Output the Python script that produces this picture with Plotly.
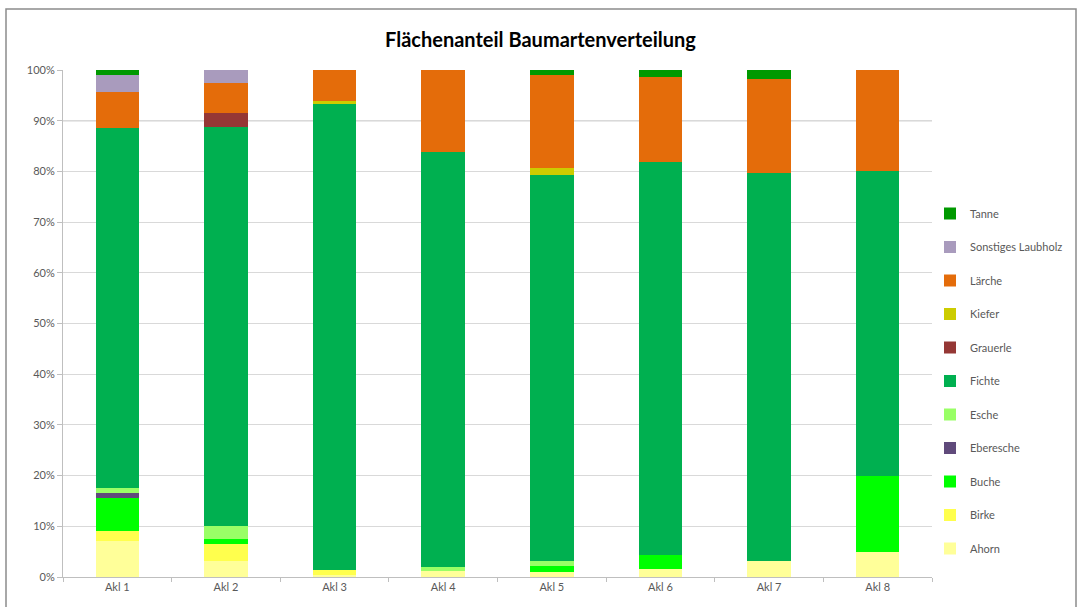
import plotly.graph_objects as go

# Altersklassen (Akl) on the x-axis
categories = ["Akl 1", "Akl 2", "Akl 3", "Akl 4", "Akl 5", "Akl 6", "Akl 7", "Akl 8"]

# Flächenanteile je Baumart in Prozent (bottom to top in the stack)
ahorn      = [7.1, 3.2, 0.3, 1.2, 1.0, 1.6, 3.2, 5.0]
birke      = [2.0, 3.3, 1.1, 0.0, 0.0, 0.0, 0.0, 0.0]
buche      = [6.4, 1.0, 0.0, 0.0, 1.1, 2.8, 0.0, 15.0]
eberesche  = [1.0, 0.0, 0.0, 0.0, 0.0, 0.0, 0.0, 0.0]
esche      = [1.1, 2.6, 0.0, 0.8, 1.0, 0.0, 0.0, 0.0]
fichte     = [71.0, 78.7, 91.8, 81.8, 76.2, 77.4, 76.5, 60.0]
grauerle   = [0.0, 2.7, 0.0, 0.0, 0.0, 0.0, 0.0, 0.0]
kiefer     = [0.0, 0.0, 0.6, 0.0, 1.3, 0.0, 0.0, 0.0]
laerche    = [7.1, 6.0, 6.2, 16.2, 18.4, 16.9, 18.5, 20.0]
sonstiges  = [3.3, 2.5, 0.0, 0.0, 0.0, 0.0, 0.0, 0.0]
tanne      = [1.0, 0.0, 0.0, 0.0, 1.0, 1.3, 1.8, 0.0]

series = [
    ("Ahorn", ahorn, "#ffff99"),
    ("Birke", birke, "#ffff4d"),
    ("Buche", buche, "#00ff00"),
    ("Eberesche", eberesche, "#604a7b"),
    ("Esche", esche, "#99ff66"),
    ("Fichte", fichte, "#00b050"),
    ("Grauerle", grauerle, "#953735"),
    ("Kiefer", kiefer, "#cccc00"),
    ("Lärche", laerche, "#e46c0a"),
    ("Sonstiges Laubholz", sonstiges, "#a99bbd"),
    ("Tanne", tanne, "#009900"),
]

fig = go.Figure()
n = len(series)
for i, (name, vals, color) in enumerate(series):
    fig.add_trace(go.Bar(
        name=name,
        x=categories,
        y=[v / 100 for v in vals],
        marker=dict(color=color, line=dict(width=0)),
        legendgroup=name,
        legendrank=n - i,  # top of the stack first in the legend
    ))

# plot area in pixels
L, R, T, B = 63, 932, 70, 577
W, H = 1081, 607

def px_to_paper_x(px):
    return (px - L) / (R - L)

def px_to_paper_y(py):
    return (B - py) / (B - T)

fig.update_layout(
    width=W, height=H,
    margin=dict(l=L, r=W - R, t=T, b=H - B, autoexpand=False),
    barmode="stack",
    bargap=0.6,
    paper_bgcolor="white",
    plot_bgcolor="white",
    title=dict(
        text="<b>Flächenanteil Baumartenverteilung</b>",
        x=0.5, xanchor="center",
        y=1 - 40 / H, yanchor="middle",
        font=dict(family="Lato", size=20, color="#000000"),
    ),
    font=dict(family="Lato", size=11, color="#595959"),
    legend=dict(
        x=px_to_paper_x(930), xanchor="left",
        y=px_to_paper_y(199), yanchor="top",
        traceorder="grouped",
        tracegroupgap=14.5,
        font=dict(family="Lato", size=11, color="#595959"),
        itemwidth=30,
        bgcolor="rgba(0,0,0,0)",
    ),
    xaxis=dict(
        showline=True, linecolor="#bfbfbf", linewidth=1,
        ticks="outside", tickson="boundaries", ticklen=4, tickcolor="#bfbfbf",
        showgrid=False,
        tickfont=dict(family="Lato", size=11, color="#595959"),
    ),
    yaxis=dict(
        range=[0, 1],
        tickformat=".0%",
        dtick=0.1,
        showline=True, linecolor="#bfbfbf", linewidth=1,
        ticks="outside", ticklen=5, tickcolor="#bfbfbf",
        showgrid=True, gridcolor="#d9d9d9", gridwidth=1,
        tickfont=dict(family="Lato", size=11, color="#595959"),
        zeroline=False,
    ),
    shapes=[
        # darker 90% gridline
        dict(type="line", xref="paper", yref="y", x0=0, x1=1, y0=0.9, y1=0.9,
             line=dict(color="#8c8c8c", width=1), layer="below"),
        # chart frame
        dict(type="rect", xref="paper", yref="paper",
             x0=px_to_paper_x(6), x1=px_to_paper_x(1076),
             y0=px_to_paper_y(612), y1=px_to_paper_y(9),
             line=dict(color="#8c8c8c", width=1.5)),
    ],
)

fig.write_html("out.html")
